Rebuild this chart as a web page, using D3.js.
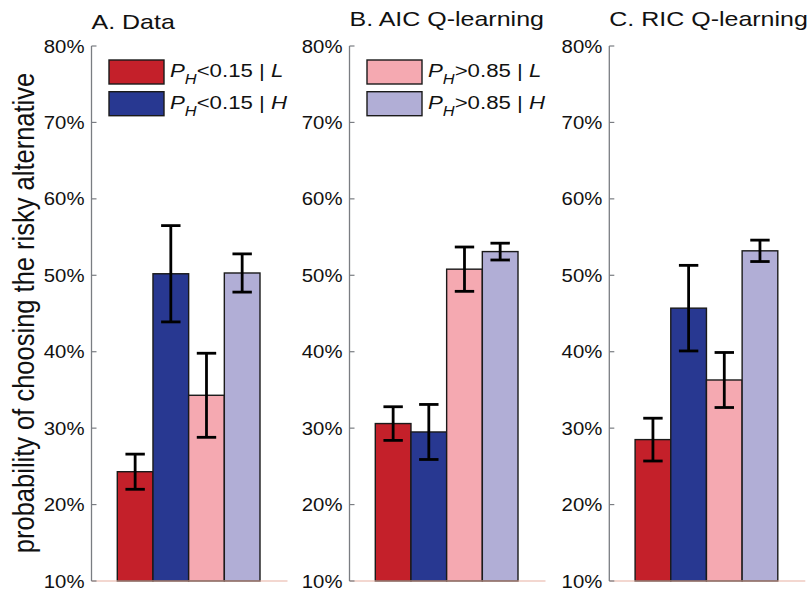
<!DOCTYPE html>
<html>
<head>
<meta charset="utf-8">
<script src="https://cdn.jsdelivr.net/npm/d3@7"></script>
<style>
  html, body { margin: 0; padding: 0; background: #fff; }
  svg { display: block; font-family: "Liberation Sans", Arial, Helvetica, sans-serif; }
</style>
</head>
<body>
<svg id="chart" width="811" height="591"></svg>
<script>
// ---- data ----
const categories = ["PH<0.15 | L", "PH<0.15 | H", "PH>0.85 | L", "PH>0.85 | H"];
const legendParts = [
  { op: "<0.15", cond: "L" },
  { op: "<0.15", cond: "H" },
  { op: ">0.85", cond: "L" },
  { op: ">0.85", cond: "H" }
];
const panelTitles = ["A. Data", "B. AIC Q-learning", "C. RIC Q-learning"];
const dataMeans = [0.243, 0.502, 0.343, 0.503];
const dataErr   = [0.023, 0.063, 0.055, 0.025];
const aicMeans  = [0.306, 0.295, 0.508, 0.531];
const aicErr    = [0.022, 0.036, 0.029, 0.011];
const ricMeans  = [0.285, 0.457, 0.363, 0.532];
const ricErr    = [0.028, 0.056, 0.036, 0.014];
const yTicks = [0.1, 0.2, 0.3, 0.4, 0.5, 0.6, 0.7, 0.8];
const yLabel = "probability of choosing the risky alternative";

// ---- styles ----
const colors = ["#c4202a", "#283891", "#f5a9b1", "#b1aed6"];
const panelLeft = [91.5, 349.5, 609.3];
const titleBase = [29, 26, 26];
const panelW = 196;
const yTop = 46, yBot = 581;

const svg = d3.select("#chart");
const y = d3.scaleLinear().domain([0.1, 0.8]).range([yBot, yTop]);
const x = d3.scaleBand().domain(categories).range([25.8, 168.5]).padding(0);

const panels = [
  { means: dataMeans, errs: dataErr },
  { means: aicMeans, errs: aicErr },
  { means: ricMeans, errs: ricErr }
];

function scaledText(parent, tx, ty, sx, anchor, size, str) {
  const g = parent.append("g").attr("transform", `translate(${tx},${ty}) scale(${sx},1)`);
  return g.append("text").attr("text-anchor", anchor).attr("font-size", size).attr("fill", "#111").text(str);
}

panels.forEach((p, pi) => {
  const g = svg.append("g").attr("transform", `translate(${panelLeft[pi]},0)`);

  // bars
  g.selectAll("rect.bar").data(categories).join("rect")
    .attr("class", "bar")
    .attr("x", d => x(d))
    .attr("width", x.bandwidth())
    .attr("y", (d, i) => y(p.means[i]))
    .attr("height", (d, i) => y(0.1) - y(p.means[i]))
    .attr("fill", (d, i) => colors[i])
    .attr("stroke", "#1a1a1a")
    .attr("stroke-width", 1.4);

  // error bars
  const cap = 9.7;
  categories.forEach((c, i) => {
    const cx = x(c) + x.bandwidth() / 2;
    const hi = y(p.means[i] + p.errs[i]), lo = y(p.means[i] - p.errs[i]);
    const eg = g.append("g").attr("stroke", "#000").attr("stroke-width", 2.8).attr("fill", "none");
    eg.append("line").attr("x1", cx).attr("x2", cx).attr("y1", hi).attr("y2", lo);
    eg.append("line").attr("x1", cx - cap).attr("x2", cx + cap).attr("y1", hi).attr("y2", hi);
    eg.append("line").attr("x1", cx - cap).attr("x2", cx + cap).attr("y1", lo).attr("y2", lo);
  });

  // x axis line
  g.append("line").attr("x1", 0).attr("x2", panelW).attr("y1", yBot).attr("y2", yBot)
    .attr("stroke", "#e8b0a2").attr("stroke-width", 1.2);

  // y axis
  g.append("line").attr("x1", 0).attr("x2", 0).attr("y1", yTop).attr("y2", yBot)
    .attr("stroke", "#7a7d82").attr("stroke-width", 1.3);
  yTicks.forEach(t => {
    g.append("line").attr("x1", 0).attr("x2", 5).attr("y1", y(t)).attr("y2", y(t))
      .attr("stroke", "#7a7d82").attr("stroke-width", 1.2);
    scaledText(g, -7, y(t) + 6.5, 1.1, "end", 18.5, d3.format(".0%")(t));
  });

  // title
  scaledText(g, 0, titleBase[pi], 1.19, "start", 21, panelTitles[pi]);
});

// legends
function legendRow(pi, idx, row) {
  const g = svg.append("g").attr("transform", `translate(${panelLeft[pi]},0)`);
  const by = 60 + row * 31.7;
  g.append("rect").attr("x", 17.5).attr("y", by).attr("width", 55).attr("height", 24)
    .attr("fill", colors[idx]).attr("stroke", "#1a1a1a").attr("stroke-width", 1.4);
  const t = scaledText(g, 78.5, by + 17, 1.17, "start", 19, null);
  t.append("tspan").attr("font-style", "italic").text("P");
  t.append("tspan").attr("font-style", "italic").attr("font-size", 14).attr("dy", 7).text("H");
  t.append("tspan").attr("dy", -7).text(legendParts[idx].op + " | ");
  t.append("tspan").attr("font-style", "italic").text(legendParts[idx].cond);
}
legendRow(0, 0, 0);
legendRow(0, 1, 1);
legendRow(1, 2, 0);
legendRow(1, 3, 1);

// y label
svg.append("g").attr("transform", "translate(34,313) rotate(-90) scale(1,1.15)")
  .append("text").attr("text-anchor", "middle").attr("font-size", 25.5).attr("fill", "#111")
  .text(yLabel);
</script>
</body>
</html>
